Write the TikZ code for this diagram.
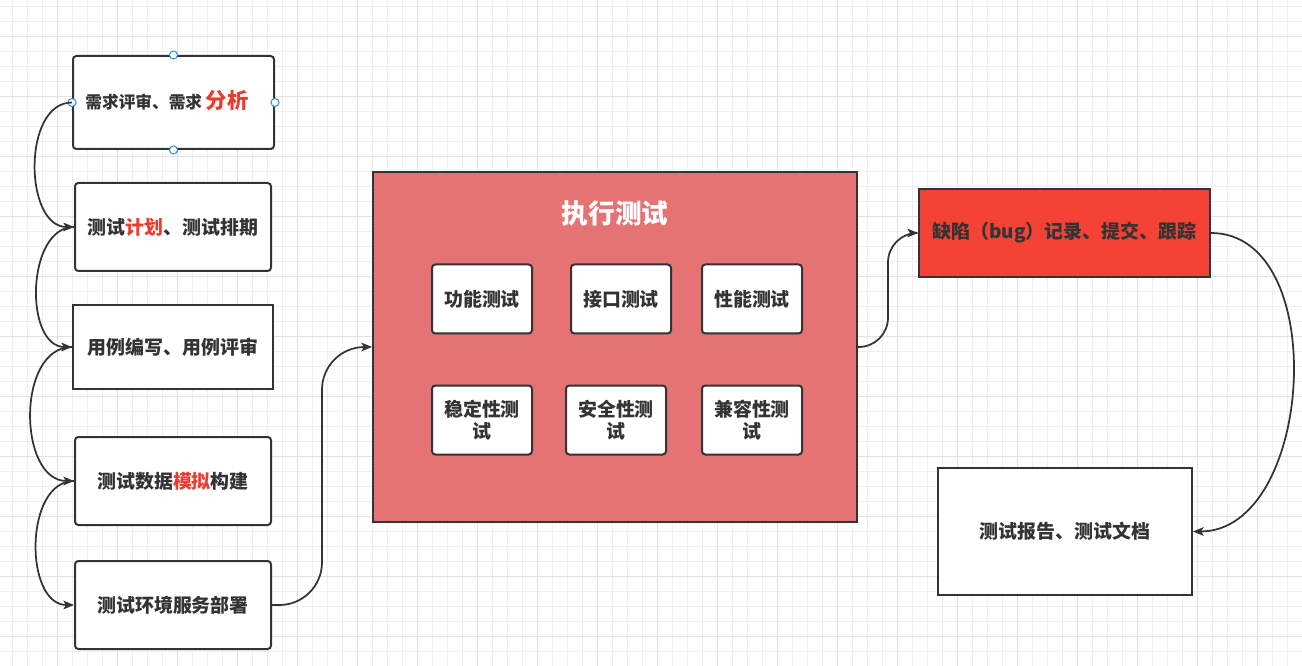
\documentclass[tikz,border=0pt]{standalone}
\usepackage{fontspec}
\setmainfont{Noto Sans CJK SC}
\usetikzlibrary{arrows.meta,calc}
\definecolor{ink}{HTML}{333333}
\definecolor{hl}{HTML}{EE3B2E}
\definecolor{execfill}{HTML}{E57373}
\definecolor{bugfill}{HTML}{F44336}
\definecolor{handle}{HTML}{2B8CF0}
\definecolor{gmin}{HTML}{EFEFEF}
\definecolor{gmaj}{HTML}{E2E2E2}
\begin{document}
\begin{tikzpicture}[x=0.75pt,y=-0.75pt,
  sz/.style 2 args={minimum width={#1*0.75pt},minimum height={#2*0.75pt}},
  box/.style={draw=ink,line width=1.5pt,fill=white,text=ink,inner sep=0pt,
    font=\fontsize{14.2}{17}\selectfont\bfseries,align=center},
  rbox/.style={box,rounded corners=2.5pt},
  conn/.style={draw=ink,line width=1.3pt,-{Stealth[length=8pt,width=6.5pt,inset=2pt]}},
  hnd/.style={circle,draw=handle,fill=white,line width=0.75pt,inner sep=0pt,minimum size=6pt}
]
\useasboundingbox (0,0) rectangle (1302,666);
\fill[white] (0,0) rectangle (1302,666);
% grid
\foreach \gx in {12.5,27.5,...,1302} \draw[gmin,line width=0.75pt] (\gx,0) -- (\gx,666);
\foreach \gy in {6.5,21.5,...,666} \draw[gmin,line width=0.75pt] (0,\gy) -- (1302,\gy);
\foreach \gx in {57.5,117.5,...,1302} \draw[gmaj,line width=0.75pt] (\gx,0) -- (\gx,666);
\foreach \gy in {36.5,96.5,...,666} \draw[gmaj,line width=0.75pt] (0,\gy) -- (1302,\gy);

% left column
\node[rbox,sz={201}{93}] (b1) at (173.5,102.5) {};
\node[text=ink,font=\fontsize{12.5}{15}\selectfont\bfseries,inner sep=0pt,anchor=base] (t1) at (167,108.5)
  {需求评审、需求 {\color{hl}\fontsize{16}{18}\selectfont 分析}};
\node[rbox,sz={196}{88}] (b2) at (173,227) {测试{\color{hl}计划}、测试排期};
\node[box,sz={200}{84}] (b3) at (173,347) {用例编写、用例评审};
\node[rbox,sz={196}{88}] (b4) at (173,481) {测试数据{\color{hl}模拟}构建};
\node[rbox,sz={196}{88}] (b5) at (173,605) {测试环境服务部署};

% execution box
\node[box,fill=execfill,sz={484}{350}] (ex) at (615,347) {};
\node[text=white,font=\fontsize{20}{24}\selectfont\bfseries,inner sep=0pt] (ext) at (615,213) {执行测试};
\node[rbox,sz={100}{69}] (i1) at (482,299) {功能测试};
\node[rbox,sz={100}{69}] (i2) at (621,299) {接口测试};
\node[rbox,sz={100}{69}] (i3) at (752,299) {性能测试};
\node[rbox,sz={100}{69}] (i4) at (482,420) {稳定性测\\试};
\node[rbox,sz={100}{69}] (i5) at (616,420) {安全性测\\试};
\node[rbox,sz={100}{69}] (i6) at (752,420) {兼容性测\\试};

% right side
\node[box,fill=bugfill,sz={291}{88}] (bug) at (1064.5,233) {缺陷（bug）记录、提交、跟踪};
\node[box,sz={254}{127}] (rep) at (1065,531.5) {测试报告、测试文档};

% handles
\node[hnd] (h1) at (b1.north) {};
\node[hnd] (h2) at (b1.south) {};
\node[hnd] (h3) at (b1.west) {};
\node[hnd] (h4) at (b1.east) {};

% connectors
\draw[conn] (b1.west) .. controls +(-50,0) and +(-50,0) .. (b2.west);
\draw[conn] (b2.west) .. controls +(-48,0) and +(-48,0) .. (b3.west);
\draw[conn] (b3.west) .. controls +(-56,0) and +(-56,0) .. (b4.west);
\draw[conn] (b4.west) .. controls +(-50,0) and +(-50,0) .. (b5.west);
\draw[conn,rounded corners=32pt] (b5.east) -| ($(b5.east)!0.5!(ex.west)$) |- (ex.west);
\draw[conn,rounded corners=22pt] (ex.east) -| ($(ex.east)!0.5!(bug.west)$) |- (bug.west);
\draw[conn] (bug.east) .. controls +(121,0) and +(121,0) .. (rep.east);
\end{tikzpicture}
\end{document}
